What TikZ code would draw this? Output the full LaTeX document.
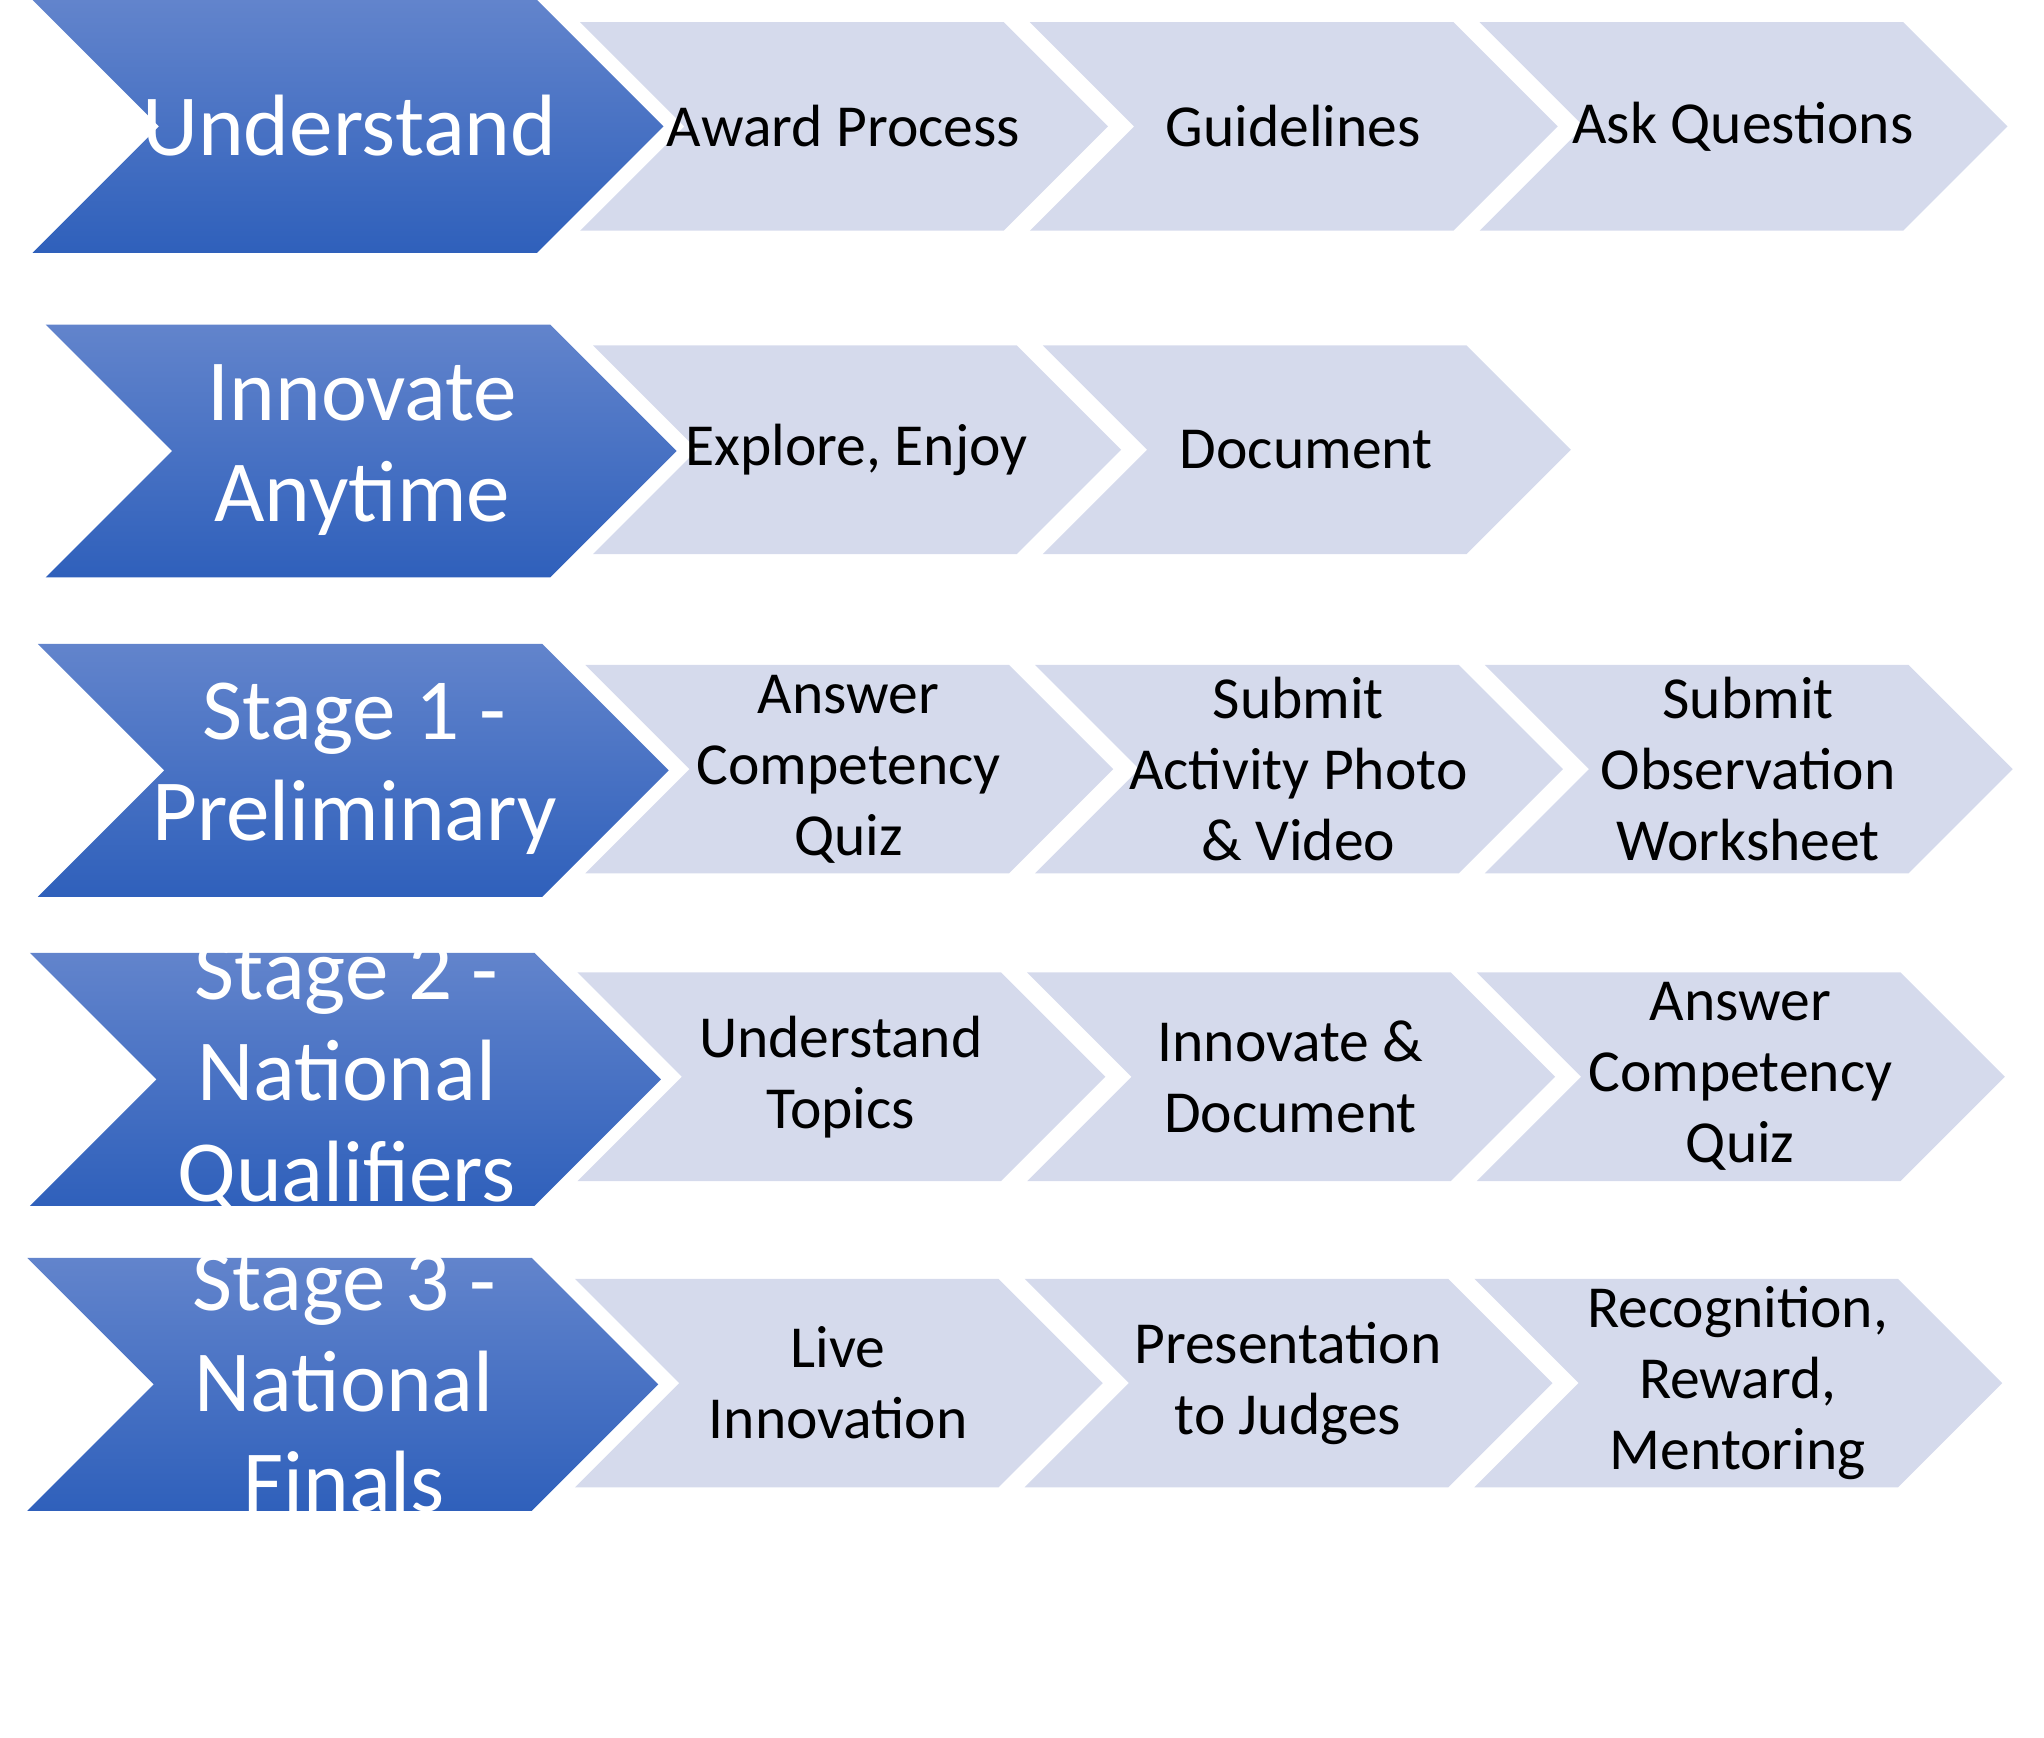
\documentclass[tikz,border=0pt]{standalone}
\usepackage{fontspec}
\setmainfont{Carlito}
\tikzset{
  x=0.01cm, y=-0.01cm,
  stage box/.style = {top color={rgb,255:red,98;green,132;blue,204}, bottom color={rgb,255:red,47;green,96;blue,187}, draw=none},
  task box/.style = {fill={rgb,255:red,213;green,218;blue,236}, draw=none},
  stage text/.style = {text=white, font=\fontsize{19}{22}\selectfont, align=center},
  task text/.style = {text=black, font=\fontsize{13}{15.5}\selectfont, align=center},
}
% chevron: style, left x, top y, body width, half height
\newcommand{\chev}[5]{%
  \path[#1] (#2,#3) -- ++(#4,0) -- ++(#5,#5) -- ++(-#5,#5) -- ++(-#4,0) -- ++(#5,-#5) -- cycle;}

\begin{document}
\begin{tikzpicture}
  \useasboundingbox (0,0) rectangle (1568,1333);

  %% row 1: understand
  \chev{stage box}{25}{0}{387}{97}
  \node[stage text] (understand) at (268,96) {Understand};
  \chev{task box}{445}{17}{325}{80}
  \node[task text] (award) at (647,97) {Award Process};
  \chev{task box}{790}{17}{325}{80}
  \node[task text] (guide) at (992,97) {Guidelines};
  \chev{task box}{1135}{17}{325}{80}
  \node[task text] (ask) at (1337,97) {Ask Questions};

  %% row 2: innovate anytime
  \chev{stage box}{35}{249}{387}{97}
  \node[stage text] (innovate) at (278,345) {Innovate\\Anytime};
  \chev{task box}{455}{265}{325}{80}
  \node[task text] (explore) at (657,345) {Explore, Enjoy};
  \chev{task box}{800}{265}{325}{80}
  \node[task text] (document) at (1002,345) {Document};

  %% row 3: stage 1
  \chev{stage box}{29}{494}{387}{97}
  \node[stage text] (stage1) at (272,590) {Stage 1 -\\Preliminary};
  \chev{task box}{449}{510}{325}{80}
  \node[task text] (quiz1) at (651,590) {Answer\\Competency\\Quiz};
  \chev{task box}{794}{510}{325}{80}
  \node[task text] (photo) at (996,590) {Submit\\Activity Photo\\\& Video};
  \chev{task box}{1139}{510}{325}{80}
  \node[task text] (sheet) at (1341,590) {Submit\\Observation\\Worksheet};

  %% row 4: stage 2
  \chev{stage box}{23}{731}{387}{97}
  \node[stage text] (stage2) at (266,827) {Stage 2 -\\National\\Qualifiers};
  \chev{task box}{443}{746}{325}{80}
  \node[task text] (topics) at (645,826) {Understand\\Topics};
  \chev{task box}{788}{746}{325}{80}
  \node[task text] (innodoc) at (990,826) {Innovate \&\\Document};
  \chev{task box}{1133}{746}{325}{80}
  \node[task text] (quiz2) at (1335,826) {Answer\\Competency\\Quiz};

  %% row 5: stage 3
  \chev{stage box}{21}{965}{387}{97}
  \node[stage text] (stage3) at (264,1061) {Stage 3 -\\National\\Finals};
  \chev{task box}{441}{981}{325}{80}
  \node[task text] (live) at (643,1061) {Live\\Innovation};
  \chev{task box}{786}{981}{325}{80}
  \node[task text] (judges) at (988,1061) {Presentation\\to Judges};
  \chev{task box}{1131}{981}{325}{80}
  \node[task text] (reward) at (1333,1061) {Recognition,\\Reward,\\Mentoring};
\end{tikzpicture}
\end{document}
